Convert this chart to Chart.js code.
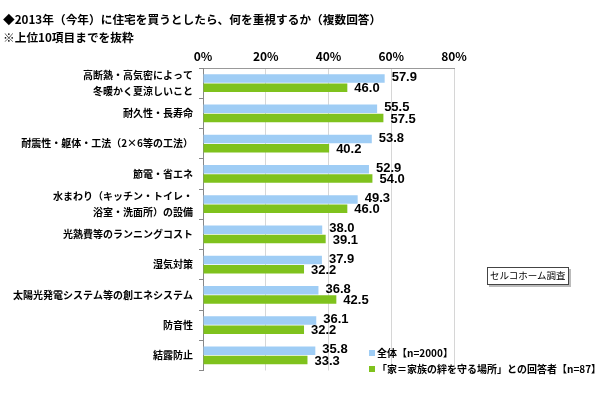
<!DOCTYPE html>
<html>
<head>
<meta charset="utf-8">
<script src="https://cdn.jsdelivr.net/npm/chart.js@4"></script>
<style>
  body { margin: 0; background: #fff; }
  #wrap { position: relative; width: 600px; height: 393px; }
  .title { position: absolute; left: 3px; font: bold 11.7px "Noto Sans CJK JP", sans-serif; color: #000; white-space: nowrap; }
  #source { position: absolute; left: 487px; top: 267px; padding: 0 2px; height: 16px; line-height: 16px;
    border: 1px solid #444; box-shadow: 2px 2px 0 #bbb; background: #fff;
    font: 9.5px "Noto Sans CJK JP", sans-serif; color: #000; }
</style>
</head>
<body>
<div id="wrap">
  <canvas id="grafico" width="600" height="393"></canvas>
  <div class="title" style="top:10px">◆2013年（今年）に住宅を買うとしたら、何を重視するか（複数回答）</div>
  <div class="title" style="top:28px">※上位10項目までを抜粋</div>
  <div id="source">セルコホーム調査</div>
</div>
<script>
var categorias = [
  ["高断熱・高気密によって", "冬暖かく夏涼しいこと"],
  "耐久性・長寿命",
  "耐震性・躯体・工法（2×6等の工法）",
  "節電・省エネ",
  ["水まわり（キッチン・トイレ・", "浴室・洗面所）の設備"],
  "光熱費等のランニングコスト",
  "湿気対策",
  "太陽光発電システム等の創エネシステム",
  "防音性",
  "結露防止"
];
var valoresTotal = [57.9, 55.5, 53.8, 52.9, 49.3, 38.0, 37.9, 36.8, 36.1, 35.8];
var valoresKizuna = [46.0, 57.5, 40.2, 54.0, 46.0, 39.1, 32.2, 42.5, 32.2, 33.3];
var nombresSeries = ["全体【n=2000】", "「家＝家族の絆を守る場所」との回答者【n=87】"];
var ticksX = [0, 20, 40, 60, 80];

var fuente = '"Noto Sans CJK JP", sans-serif';

// etiquetas de valor al final de cada barra
var etiquetasValor = {
  id: 'etiquetasValor',
  afterDatasetsDraw: function(chart) {
    var ctx = chart.ctx;
    ctx.save();
    ctx.font = 'bold 13px "Liberation Sans", Arial, sans-serif';
    ctx.fillStyle = '#000';
    ctx.textBaseline = 'middle';
    ctx.textAlign = 'left';
    chart.data.datasets.forEach(function(ds, i) {
      chart.getDatasetMeta(i).data.forEach(function(bar, j) {
        ctx.fillText(ds.data[j].toFixed(1), bar.x + 7, bar.y + (i === 0 ? -1 : 1));
      });
    });
    ctx.restore();
  }
};

// leyenda dentro del area del grafico
var leyenda = {
  id: 'leyenda',
  afterDraw: function(chart) {
    var ctx = chart.ctx;
    ctx.save();
    ctx.font = 'bold 10px ' + fuente;
    ctx.textBaseline = 'middle';
    chart.data.datasets.forEach(function(ds, i) {
      var y = 353 + i * 16;
      ctx.fillStyle = ds.backgroundColor;
      ctx.fillRect(369, y - 3, 6, 6);
      ctx.fillStyle = '#000';
      ctx.fillText(ds.label, 377, y);
    });
    ctx.restore();
  }
};

new Chart(document.getElementById('grafico'), {
  type: 'bar',
  data: {
    labels: categorias,
    datasets: [
      { label: nombresSeries[0], data: valoresTotal, backgroundColor: '#9fcdf5',
        categoryPercentage: 0.62, barPercentage: 0.9 },
      { label: nombresSeries[1], data: valoresKizuna, backgroundColor: '#7fc21d',
        categoryPercentage: 0.62, barPercentage: 0.9 }
    ]
  },
  options: {
    indexAxis: 'y',
    responsive: false,
    animation: false,
    events: [],
    layout: { padding: { top: 0, left: 0, right: 146, bottom: 15 } },
    plugins: { legend: { display: false }, tooltip: { enabled: false }, title: { display: false } },
    scales: {
      x: {
        position: 'top',
        min: 0, max: 80,
        afterBuildTicks: function(scale) {
          scale.ticks = ticksX.map(function(v) { return { value: v }; });
        },
        afterFit: function(scale) { scale.height = 68; },
        ticks: {
          color: '#000',
          font: { family: fuente, size: 12, weight: 'bold' },
          padding: 4,
          callback: function(v) { return v + '%'; }
        },
        grid: { color: '#d6d6d6', drawTicks: false },
        border: { color: '#999' }
      },
      y: {
        afterFit: function(scale) { scale.width = 203; },
        ticks: {
          color: '#000',
          font: { family: fuente, size: 10, weight: 'bold', lineHeight: 1.65 },
          padding: 6,
          autoSkip: false
        },
        grid: { drawOnChartArea: false, drawTicks: true, tickLength: 4, color: '#888' },
        border: { color: '#888' }
      }
    }
  },
  plugins: [etiquetasValor, leyenda]
});
</script>
</body>
</html>
